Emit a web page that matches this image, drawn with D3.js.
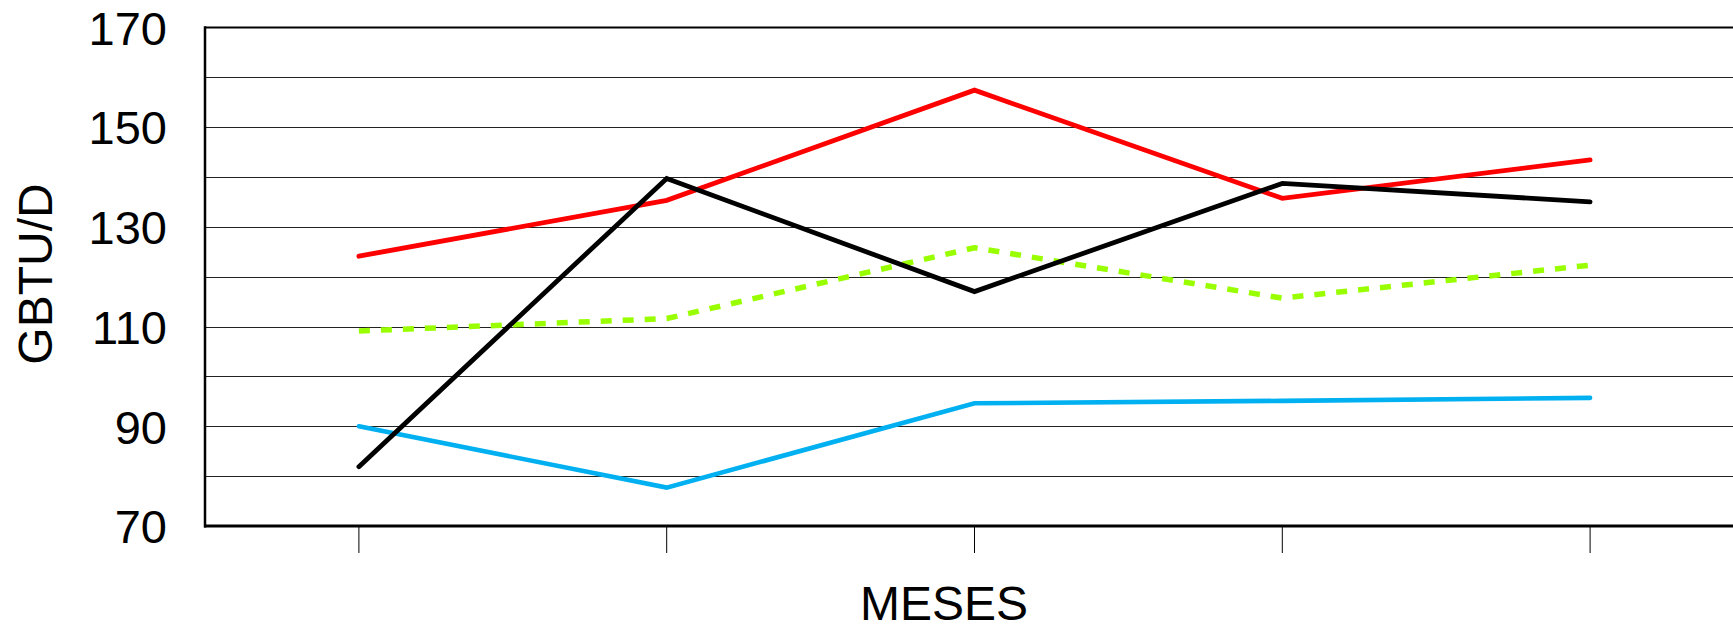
<!DOCTYPE html>
<html>
<head>
<meta charset="utf-8">
<script src="https://cdn.jsdelivr.net/npm/d3@7"></script>
<style>
  html, body { margin: 0; padding: 0; background: #fff; }
  svg { display: block; }
  text { font-family: "Liberation Sans", Arial, sans-serif; fill: #000; }
</style>
</head>
<body>
<svg id="chart" width="1733" height="629"></svg>
<script>
// ---- data ----
const categories = ["1", "2", "3", "4", "5"];
const yTicks = [70, 90, 110, 130, 150, 170];
const gridValues = [80, 90, 100, 110, 120, 130, 140, 150, 160, 170];
const redValues = [124.1, 135.3, 157.4, 135.7, 143.4];
const blackValues = [81.9, 139.7, 117.0, 138.7, 135.0];
const greenValues = [109.1, 111.6, 125.8, 115.7, 122.3];
const blueValues = [90.0, 77.7, 94.6, 95.1, 95.7];
const xTitle = "MESES";
const yTitle = "GBTU/D";

const series = [
  { name: "azul", values: blueValues, color: "#00B0F0", width: 4.6, dash: null },
  { name: "verde", values: greenValues, color: "#99FF00", width: 5.5, dash: "11,11" },
  { name: "rojo", values: redValues, color: "#FF0000", width: 4.8, dash: null },
  { name: "negro", values: blackValues, color: "#000000", width: 4.8, dash: null }
];

// ---- layout ----
const W = 1733, H = 629;
const plotLeft = 205, plotTop = 27.3, plotBottom = 526;
const step = 307.8;

const svg = d3.select("#chart");

const x = d3.scaleBand().domain(categories).range([plotLeft, plotLeft + step * categories.length]).padding(0);
const y = d3.scaleLinear().domain([70, 170]).range([plotBottom, plotTop]);
const cx = d => x(d) + x.bandwidth() / 2;

// gridlines
svg.append("g").selectAll("line").data(gridValues).join("line")
  .attr("x1", plotLeft).attr("x2", W)
  .attr("y1", d => Math.round(y(d)) + 0.5).attr("y2", d => Math.round(y(d)) + 0.5)
  .attr("stroke", d => d === 170 ? "#000" : "#222")
  .attr("stroke-width", d => d === 170 ? 2 : 1);

// bottom axis with ticks below
const xAxis = d3.axisBottom(x).tickSize(27).tickFormat("");
const gx = svg.append("g").attr("transform", `translate(0,${plotBottom})`).call(xAxis);
gx.select(".domain").remove();
gx.selectAll(".tick line").attr("stroke", "#000").attr("stroke-width", 1);

// left axis labels
const yAxis = d3.axisLeft(y).tickValues(yTicks).tickSize(0).tickPadding(38).tickFormat(d3.format("d"));
const gy = svg.append("g").attr("transform", `translate(${plotLeft},0)`).call(yAxis);
gy.select(".domain").remove();
gy.selectAll(".tick text")
  .attr("font-size", 47)
  .attr("font-family", "'Liberation Sans', Arial, sans-serif")
  .attr("dy", "0.36em")
  .attr("fill", "#000");

// axis frame lines
svg.append("line").attr("x1", plotLeft).attr("x2", plotLeft).attr("y1", plotTop - 1).attr("y2", plotBottom + 1.5)
  .attr("stroke", "#000").attr("stroke-width", 2.5);
svg.append("line").attr("x1", plotLeft - 1).attr("x2", W).attr("y1", plotBottom).attr("y2", plotBottom)
  .attr("stroke", "#000").attr("stroke-width", 3);

// series lines
const line = d3.line().x((d, i) => cx(categories[i])).y(d => y(d));

svg.append("g").selectAll("path").data(series).join("path")
  .attr("d", s => line(s.values))
  .attr("fill", "none")
  .attr("stroke", s => s.color)
  .attr("stroke-width", s => s.width)
  .attr("stroke-dasharray", s => s.dash)
  .attr("stroke-linecap", s => s.dash ? "butt" : "round")
  .attr("stroke-linejoin", s => s.dash ? "round" : "miter");

// titles
svg.append("text").attr("x", 944).attr("y", 620)
  .attr("text-anchor", "middle").attr("font-size", 48).text(xTitle);
svg.append("text").attr("transform", "translate(52,274) rotate(-90)")
  .attr("text-anchor", "middle").attr("font-size", 48).text(yTitle);
</script>
</body>
</html>
